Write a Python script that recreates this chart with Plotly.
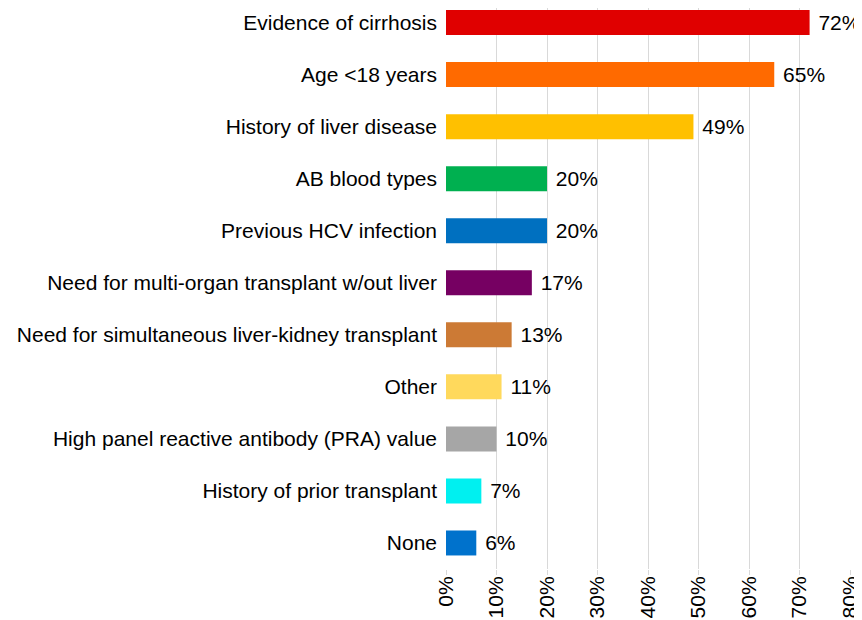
import plotly.graph_objects as go

categories = [
    "Evidence of cirrhosis",
    "Age <18 years",
    "History of liver disease",
    "AB blood types",
    "Previous HCV infection",
    "Need for multi-organ transplant w/out liver",
    "Need for simultaneous liver-kidney transplant",
    "Other",
    "High panel reactive antibody (PRA) value",
    "History of prior transplant",
    "None",
]
values = [72, 65, 49, 20, 20, 17, 13, 11, 10, 7, 6]
colors = ["#E00000", "#FF6A00", "#FFC000", "#00B050", "#0070C0", "#760062",
          "#CC7A35", "#FFD95C", "#A6A6A6", "#00F0F0", "#0072CC"]
x_ticks = [0, 10, 20, 30, 40, 50, 60, 70, 80]

FS = 21

fig = go.Figure(go.Bar(
    x=values,
    y=categories,
    orientation="h",
    marker=dict(color=colors, line=dict(width=0)),
    text=[f" {v}%" for v in values],
    textposition="outside",
    textfont=dict(size=FS, color="#000000"),
    cliponaxis=False,
    width=0.48,
))

fig.update_layout(
    width=854, height=612,
    margin=dict(l=438, r=12, t=0, b=51, autoexpand=False),
    paper_bgcolor="white", plot_bgcolor="white",
    font=dict(family="Liberation Sans, Arial, sans-serif", size=FS, color="#000000"),
    showlegend=False,
    xaxis=dict(
        range=[0, 80],
        tickvals=x_ticks,
        ticktext=[f"{t}%" for t in x_ticks],
        tickangle=-90,
        showgrid=True, gridcolor="#D9D9D9", gridwidth=1,
        zeroline=False,
        showline=False,
        ticks="outside", ticklen=5, tickcolor="#D9D9D9",
        tickfont=dict(size=FS),
        ticklabelstandoff=-7,
        automargin=False,
    ),
    yaxis=dict(
        type="category",
        categoryorder="array",
        categoryarray=categories,
        range=[10.5, -0.28],
        showgrid=False,
        showline=False,
        ticks="",
        ticklabelstandoff=8,
        tickfont=dict(size=FS),
        automargin=False,
    ),
)

fig.write_html("out.html")
